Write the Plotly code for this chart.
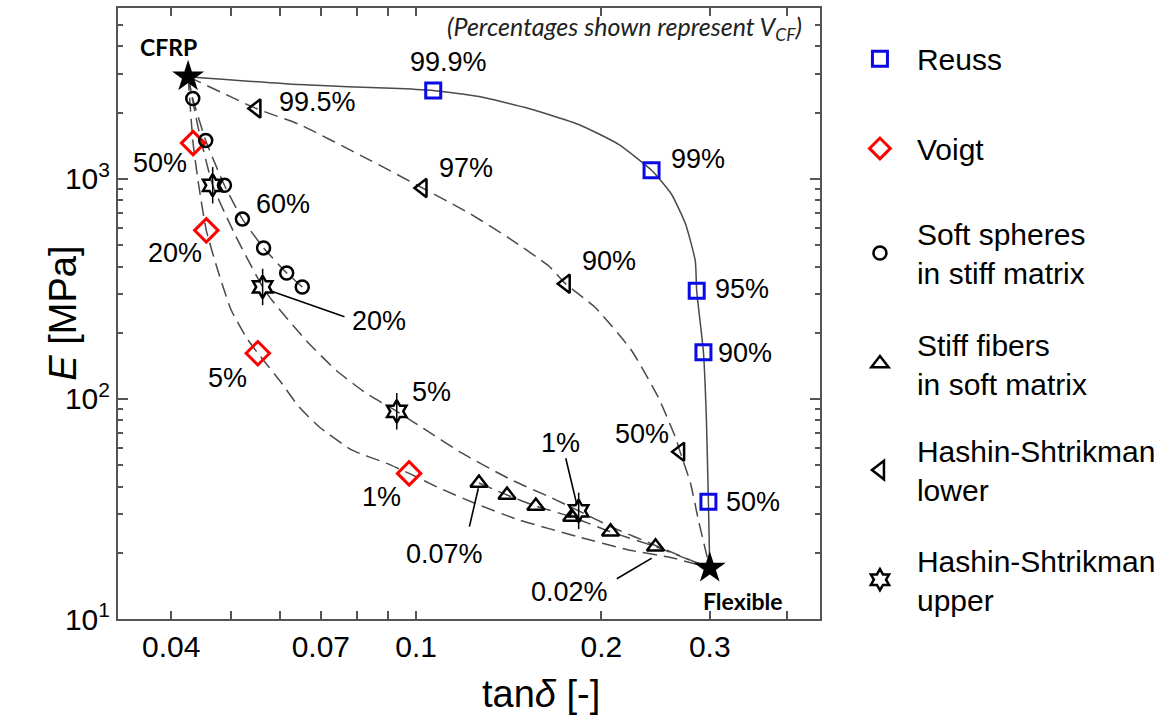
import math
import plotly.graph_objects as go

# ---------------- data ----------------
# end members
end_x = [0.0426, 0.300]
end_y = [2917, 17.05]

# Reuss (markers + solid curve)
reuss_x = [0.1066, 0.2413, 0.2857, 0.2930, 0.2985]
reuss_y = [2521, 1095, 310, 163, 34.1]
reuss_curve_x = [0.0426, 0.0646, 0.0938, 0.1066, 0.1265, 0.1524, 0.1837, 0.2133,
                 0.2413, 0.2600, 0.2740, 0.2842, 0.2857, 0.2930, 0.2962, 0.2985, 0.300]
reuss_curve_y = [2917, 2684, 2574, 2521, 2368, 2089, 1769, 1436,
                 1095, 852, 624, 424, 310, 163, 82.5, 34.1, 17.05]

# Voigt
voigt_x = [0.0434, 0.0456, 0.0553, 0.0974]
voigt_y = [1455, 584, 161.4, 45.9]
voigt_curve_x = [0.0426, 0.0434, 0.0443, 0.0456, 0.0474, 0.0500, 0.0530, 0.0553, 0.0600,
                 0.0646, 0.0697, 0.0787, 0.0894, 0.0974, 0.1090, 0.1265, 0.1469, 0.1837,
                 0.2214, 0.2600, 0.300]
voigt_curve_y = [2917, 1455, 946, 584, 400, 255, 190, 161.4, 121.4,
                 91.6, 74.4, 58.5, 51.1, 45.9, 39.4, 33.0, 28.2, 23.6,
                 20.6, 19.0, 17.05]

# Soft spheres in stiff matrix
ss_x = [0.04335, 0.0455, 0.0488, 0.0522, 0.0565, 0.0616, 0.0653]
ss_y = [2319, 1497, 936, 657, 486, 374, 323]
ss_curve_x = [0.0426] + ss_x
ss_curve_y = [2917] + ss_y

# Stiff fibers in soft matrix
sf_x = [0.1265, 0.1405, 0.1565, 0.1790, 0.2070, 0.2449]
sf_y = [41.5, 36.6, 32.6, 29.1, 24.9, 21.3]
sf_curve_x = sf_x + [0.300]
sf_curve_y = sf_y + [17.05]

# Hashin-Shtrikman lower
hsl_x = [0.0550, 0.1024, 0.1750, 0.2685]
hsl_y = [2089, 910, 333.7, 57.5]
hsl_curve_x = [0.0426, 0.0550, 0.0646, 0.0830, 0.1024, 0.1219, 0.1415, 0.1643, 0.1750,
               0.1957, 0.2239, 0.2475, 0.2638, 0.2685, 0.2791, 0.2875, 0.300]
hsl_curve_y = [2917, 2089, 1769, 1241, 910, 699, 539, 402, 333.7,
               259.8, 166, 101.7, 67, 57.5, 41.5, 28.2, 17.05]

# Hashin-Shtrikman upper
hsu_x = [0.0467, 0.0563, 0.0930, 0.1837]
hsu_y = [936, 323, 87.9, 31.0]
hsu_curve_x = [0.0426, 0.0443, 0.0467, 0.0509, 0.0563, 0.0584, 0.0663, 0.0742, 0.0830,
               0.0930, 0.1038, 0.1187, 0.1430, 0.1662, 0.1837, 0.2078, 0.2475, 0.300]
hsu_curve_y = [2917, 1679, 936, 550, 323, 279.5, 184, 134.7, 106,
               87.9, 72.1, 56.7, 42.8, 35.5, 31.0, 26.2, 21.3, 17.05]

# tick labels
x_tickvals = [0.04, 0.05, 0.06, 0.07, 0.08, 0.09, 0.1, 0.2, 0.3, 0.4]
x_ticktext = ["0.04", "", "", "0.07", "", "", "0.1", "0.2", "0.3", ""]
y_tickvals = [10, 100, 1000]
y_ticktext = ["10<sup>1</sup>", "10<sup>2</sup>", "10<sup>3</sup>"]
y_minorvals = [20, 30, 40, 50, 60, 70, 80, 90, 200, 300, 400, 500, 600, 700, 800, 900,
               2000, 3000, 4000, 5000]

# percentage labels (text, x, y)
pct_labels = [
    ("99.9%", 0.1129, 3414), ("99%", 0.2875, 1228), ("95%", 0.3388, 316.7),
    ("90%", 0.3425, 162.6), ("50%", 0.3529, 34.0),
    ("99.5%", 0.0691, 2248), ("97%", 0.1205, 1118), ("90%", 0.2055, 424),
    ("50%", 0.2329, 69.1),
    ("50%", 0.03834, 1178), ("20%", 0.04053, 461), ("5%", 0.0494, 125.2),
    ("1%", 0.0878, 35.9),
    ("60%", 0.06087, 768),
    ("20%", 0.0871, 227), ("5%", 0.1058, 107.2), ("1%", 0.1718, 63.0),
    ("0.07%", 0.111, 19.8), ("0.02%", 0.1777, 13.32),
]
# leader lines ((x_from, y_from), (x_to, y_to))
leaders = [((0.0584, 307.8), (0.0769, 234.9)),
           ((0.1825, 33.0), (0.1748, 54.6)),
           ((0.1262, 39.3), (0.1219, 25.9)),
           ((0.2415, 18.9), (0.2107, 15.1))]
end_labels = [("CFRP", 0.03955, 3990), ("Flexible", 0.3400, 12.13)]

# ---------------- styling ----------------
FONT = "Liberation Sans, Arial, Helvetica, sans-serif"
BOLD = "Lato, Open Sans, sans-serif"
LC = "#4a4a4a"
DASH = "14px,7px"
L = math.log10

# plot area in pixels (for the legend rows)
PLOT_TOP, PLOT_BOTTOM = 6, 619.5
legend_rows_px = [57, 147, 252, 363, 470, 580]

fig = go.Figure()


def add_curve(xs, ys, dash):
    fig.add_trace(go.Scatter(
        x=xs, y=ys, mode="lines", showlegend=False, hoverinfo="skip",
        line=dict(color=LC, width=1.5, dash=dash, shape="spline", smoothing=0.5)))


add_curve(reuss_curve_x, reuss_curve_y, "solid")
add_curve(hsl_curve_x, hsl_curve_y, DASH)
add_curve(hsu_curve_x, hsu_curve_y, DASH)
add_curve(voigt_curve_x, voigt_curve_y, DASH)
add_curve(ss_curve_x, ss_curve_y, DASH)
add_curve(sf_curve_x, sf_curve_y, DASH)

legend_ids = ["legend", "legend2", "legend3", "legend4", "legend5", "legend6"]


def add_markers(xs, ys, name, symbol, size, color, lw, idx):
    fig.add_trace(go.Scatter(
        x=xs, y=ys, mode="markers", name=name, legend=legend_ids[idx],
        marker=dict(symbol=symbol, size=size, color=color,
                    line=dict(width=lw, color=color))))


add_markers(reuss_x, reuss_y, "Reuss", "square-open", 15, "#0a0ae6", 3, 0)
add_markers(voigt_x, voigt_y, "Voigt", "diamond-open", 18, "#ff0000", 3, 1)
add_markers(ss_x, ss_y, "Soft spheres<br>in stiff matrix", "circle-open", 13, "black", 2.5, 2)
add_markers(sf_x, sf_y, "Stiff fibers<br>in soft matrix", "triangle-up-open", 15, "black", 2.5, 3)
add_markers(hsl_x, hsl_y, "Hashin-Shtrikman<br>lower", "triangle-left-open", 16, "black", 2.5, 4)
# vertical stems through the HS upper hexagrams
fig.add_trace(go.Scatter(x=hsu_x, y=hsu_y, mode="markers", showlegend=False,
                         hoverinfo="skip",
                         marker=dict(symbol="line-ns-open", size=26, color="black",
                                     line=dict(width=1.5, color="black"))))
add_markers(hsu_x, hsu_y, "Hashin-Shtrikman<br>upper", "hexagram-open", 17, "black", 2.5, 5)

fig.add_trace(go.Scatter(x=end_x, y=end_y, mode="markers", showlegend=False,
                         marker=dict(symbol="star", size=24, color="black",
                                     line=dict(width=0))))

annotations = []
for txt, x, y in pct_labels:
    annotations.append(dict(x=L(x), y=L(y), xref="x", yref="y", text=txt,
                            xanchor="center", yanchor="middle",
                            showarrow=False, font=dict(family=FONT, size=27, color="black")))
for (x0, y0), (x1, y1) in leaders:
    annotations.append(dict(x=L(x0), y=L(y0), ax=L(x1), ay=L(y1), xref="x", yref="y",
                            axref="x", ayref="y", text="", showarrow=True, arrowhead=0,
                            arrowwidth=1.6, arrowcolor="black", standoff=0, startstandoff=0))
for txt, x, y in end_labels:
    annotations.append(dict(x=L(x), y=L(y), xref="x", yref="y", text="<b>%s</b>" % txt,
                            xanchor="center", yanchor="middle",
                            showarrow=False, font=dict(family=BOLD, size=23, color="black")))

annotations.append(dict(x=0.977, y=0.968, xref="paper", yref="paper", xanchor="right",
                        yanchor="middle",
                        text="<i>(Percentages shown represent V<sub>CF</sub>)</i>",
                        showarrow=False, font=dict(family=BOLD, size=25, color="#222")))
annotations.append(dict(x=-0.0795, y=0.50, xref="paper", yref="paper", textangle=-90,
                        xanchor="center", yanchor="middle",
                        text="<i>E</i> [MPa]", showarrow=False,
                        font=dict(family=FONT, size=38, color="black")))
annotations.append(dict(x=0.6023, y=-0.123, xref="paper", yref="paper",
                        xanchor="center", yanchor="middle",
                        text="tan<i>δ</i> [-]", showarrow=False,
                        font=dict(family=FONT, size=38, color="black")))

axis_common = dict(type="log", showgrid=False, zeroline=False, showline=True,
                   linecolor="#555", linewidth=2, mirror="ticks", ticks="inside",
                   tickcolor="#555", tickwidth=1.5,
                   tickfont=dict(family=FONT, size=30, color="black"))

legend_layout = {}
for lid, row in zip(legend_ids, legend_rows_px):
    legend_layout[lid] = dict(
        x=1.0327, y=(PLOT_BOTTOM - row) / (PLOT_BOTTOM - PLOT_TOP),
        xanchor="left", yanchor="middle",
        font=dict(family=FONT, size=30, color="black"),
        itemwidth=64, bgcolor="rgba(0,0,0,0)", valign="middle", itemsizing="trace")

fig.update_layout(
    width=1167, height=723,
    margin=dict(l=118, r=345, t=6, b=104),
    paper_bgcolor="white", plot_bgcolor="white",
    xaxis=dict(range=[L(0.03277), L(0.4532)], tickmode="array",
               tickvals=x_tickvals, ticktext=x_ticktext, ticklen=8, **axis_common),
    yaxis=dict(range=[1.0, 3.777], tickmode="array", tickvals=y_tickvals,
               ticktext=y_ticktext, ticklen=10,
               minor=dict(tickvals=y_minorvals, ticks="inside", ticklen=5,
                          tickcolor="#555", tickwidth=1.5, showgrid=False),
               **axis_common),
    annotations=annotations,
    showlegend=True,
    **legend_layout,
)

fig.write_html("out.html", config={"displayModeBar": False},
               post_script="document.body.style.margin='0px';")
